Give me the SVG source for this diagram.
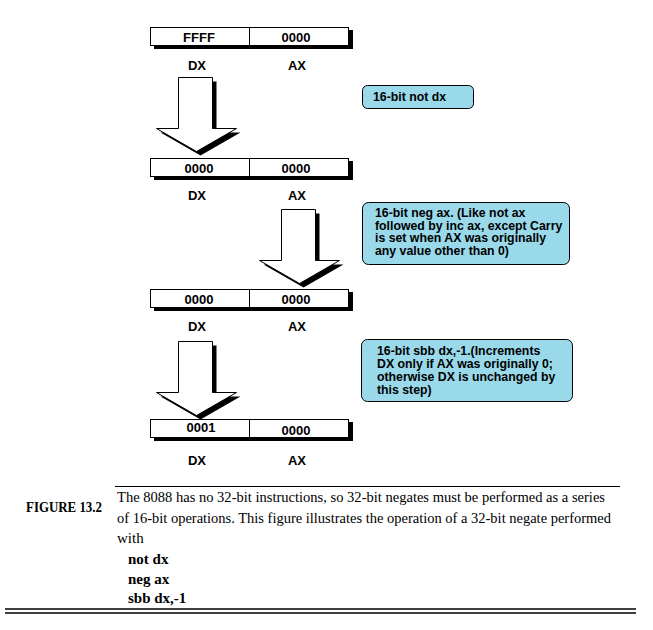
<svg xmlns="http://www.w3.org/2000/svg" width="653" height="630" viewBox="0 0 653 630">
<style>
.reg{fill:#fff;stroke:#000;stroke-width:1}
.sh{fill:#000}
.rt{font-family:"Liberation Sans",Arial,sans-serif;font-weight:bold;font-size:13px;text-anchor:middle;fill:#000}
.note{fill:#99D9EA;stroke:#000;stroke-width:1}
.nt{font-family:"Liberation Sans",Arial,sans-serif;font-weight:bold;font-size:12.3px;fill:#000}
.arw{fill:#fff;stroke:#000;stroke-width:1}
.cap{font-family:"Liberation Serif","Times New Roman",serif;font-size:15px;fill:#000}
.capb{font-family:"Liberation Serif","Times New Roman",serif;font-size:15px;font-weight:bold;fill:#000}
</style>
<defs>
<path id="arrow" d="M0,0 H34 V51 H58 L18,74 L-22,51 H0 Z"/>
</defs>
<rect width="653" height="630" fill="#fff"/>

<g id="reg1">
<rect class="sh" x="154" y="30" width="199" height="19"/>
<rect class="reg" x="150.5" y="27.5" width="198" height="18"/>
<line x1="249.5" y1="27.5" x2="249.5" y2="45.5" stroke="#000"/>
<text class="rt" x="199" y="41.5">FFFF</text>
<text class="rt" x="296" y="41.5">0000</text>
<text class="rt" x="197" y="69.5">DX</text>
<text class="rt" x="297" y="69.5">AX</text>
</g>

<g id="reg2">
<rect class="sh" x="154" y="161" width="199" height="19"/>
<rect class="reg" x="150.5" y="158.5" width="198" height="18"/>
<line x1="249.5" y1="158.5" x2="249.5" y2="176.5" stroke="#000"/>
<text class="rt" x="199" y="172.5">0000</text>
<text class="rt" x="296" y="172.5">0000</text>
<text class="rt" x="197" y="199.5">DX</text>
<text class="rt" x="297" y="199.5">AX</text>
</g>

<g id="reg3">
<rect class="sh" x="154" y="292" width="199" height="19"/>
<rect class="reg" x="150.5" y="289.5" width="198" height="18"/>
<line x1="249.5" y1="289.5" x2="249.5" y2="307.5" stroke="#000"/>
<text class="rt" x="199" y="303.5">0000</text>
<text class="rt" x="296" y="303.5">0000</text>
<text class="rt" x="197" y="330.5">DX</text>
<text class="rt" x="297" y="330.5">AX</text>
</g>

<g id="reg4">
<rect class="sh" x="154" y="422" width="199" height="19"/>
<rect class="reg" x="150.5" y="419.5" width="198" height="18"/>
<line x1="249.5" y1="419.5" x2="249.5" y2="437.5" stroke="#000"/>
<text class="rt" x="201" y="431.5">0001</text>
<text class="rt" x="296" y="434.5">0000</text>
<text class="rt" x="197" y="464.5">DX</text>
<text class="rt" x="297" y="464.5">AX</text>
</g>

<g id="note1">
<rect class="note" x="362.5" y="85.5" width="111" height="23" rx="5"/>
<text class="nt" x="373" y="101">16-bit not dx</text>
</g>

<g id="note2">
<rect class="note" x="362.5" y="202.5" width="207" height="62" rx="6"/>
<text class="nt" x="375" y="217">16-bit neg ax. (Like not ax</text>
<text class="nt" x="375" y="229.5">followed by inc ax, except Carry</text>
<text class="nt" x="375" y="242">is set when AX was originally</text>
<text class="nt" x="375" y="254.5">any value other than 0)</text>
</g>

<g id="note3">
<rect class="note" x="361.5" y="339.5" width="211" height="62" rx="6"/>
<text class="nt" x="377" y="355">16-bit sbb dx,-1.(Increments</text>
<text class="nt" x="377" y="368">DX only if AX was originally 0;</text>
<text class="nt" x="377" y="381">otherwise DX is unchanged by</text>
<text class="nt" x="377" y="394">this step)</text>
</g>

<g id="connectors">
<g transform="translate(178.5,77.5)">
<use href="#arrow" class="sh" transform="translate(4,4)"/>
<use href="#arrow" class="arw"/>
</g>
<g transform="translate(281.5,209.5)">
<use href="#arrow" class="sh" transform="translate(4,4)"/>
<use href="#arrow" class="arw"/>
</g>
<g transform="translate(178.5,341.5)">
<use href="#arrow" class="sh" transform="translate(4,4)"/>
<use href="#arrow" class="arw"/>
</g>
</g>

<g id="caption">
<line x1="115" y1="486.5" x2="620" y2="486.5" stroke="#000" stroke-width="1"/>
<text class="capb" x="26" y="512" textLength="76" lengthAdjust="spacingAndGlyphs">FIGURE 13.2</text>
<text class="cap" x="117" y="502" textLength="488" lengthAdjust="spacingAndGlyphs">The 8088 has no 32-bit instructions, so 32-bit negates must be performed as a series</text>
<text class="cap" x="117" y="523" textLength="494" lengthAdjust="spacingAndGlyphs">of 16-bit operations. This figure illustrates the operation of a 32-bit negate performed</text>
<text class="cap" x="117" y="543">with</text>
<text class="capb" x="128" y="564">not dx</text>
<text class="capb" x="128" y="584">neg ax</text>
<text class="capb" x="128" y="603">sbb dx,-1</text>
<line x1="5" y1="609" x2="636" y2="609" stroke="#000" stroke-width="1.5"/>
<line x1="5" y1="613" x2="636" y2="613" stroke="#000" stroke-width="1.5"/>
</g>
</svg>
